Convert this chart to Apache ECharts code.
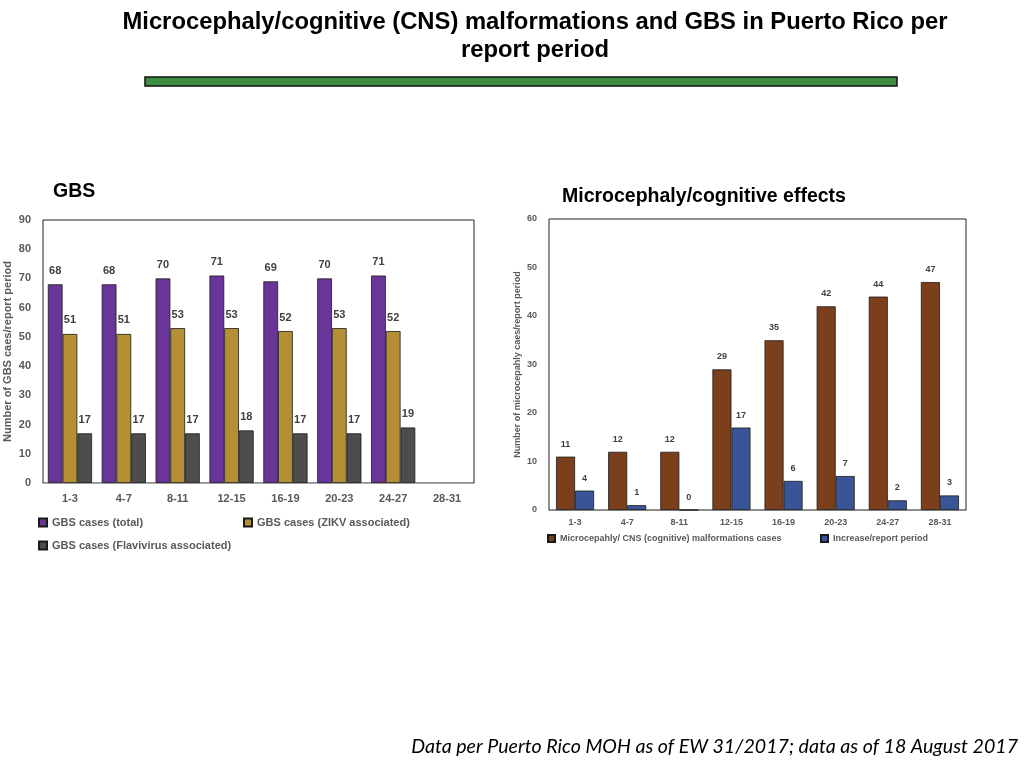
<!DOCTYPE html>
<html><head><meta charset="utf-8">
<script src="https://cdn.jsdelivr.net/npm/echarts@6/dist/echarts.min.js"></script>
<style>html,body{margin:0;padding:0;background:#fff}#c{width:1024px;height:768px}</style>
</head><body><div id="c"></div>
<script>
const periods = ['1-3','4-7','8-11','12-15','16-19','20-23','24-27','28-31'];
const gbsTotal = [68,68,70,71,69,70,71,null];
const gbsZikv = [51,51,53,53,52,53,52,null];
const gbsFlavi = [17,17,17,18,17,17,19,null];
const microCases = [11,12,12,29,35,42,44,47];
const microIncrease = [4,1,0,17,6,7,2,3];
const gbsTicks = {min:0,max:90,interval:10};
const microTicks = {min:0,max:60,interval:10};

const chart = echarts.init(document.getElementById('c'));
const lblL = {show:true,position:'top',color:'#404040',fontWeight:'bold',fontSize:11,fontFamily:'Liberation Sans, Arial',distance:8};
const lblR = {show:true,position:'top',color:'#404040',fontWeight:'bold',fontSize:9,fontFamily:'Liberation Sans, Arial',distance:8};
const axisLblL = {color:'#595959',fontWeight:'bold',fontSize:11,fontFamily:'Liberation Sans, Arial'};
const axisLblR = {color:'#595959',fontWeight:'bold',fontSize:9,fontFamily:'Liberation Sans, Arial'};
const bs = (c)=>({color:c,borderColor:'#1a1a1a',borderWidth:0.8});
const legTxt = (s)=>({color:'#595959',fontWeight:'bold',fontSize:s,fontFamily:'Liberation Sans, Arial'});

chart.setOption({
  animation:false,
  title:[
    {text:'Microcephaly/cognitive (CNS) malformations and GBS in Puerto Rico per\nreport period',left:530,textAlign:'center',top:3,
     textStyle:{fontFamily:'Liberation Sans, Arial',fontWeight:'bold',fontSize:23.8,color:'#000',lineHeight:28}},
    {text:'GBS',left:48,top:177,textStyle:{fontFamily:'Liberation Sans, Arial',fontWeight:'bold',fontSize:19.5,color:'#000'}},
    {text:'Microcephaly/cognitive effects',left:557,top:182,textStyle:{fontFamily:'Liberation Sans, Arial',fontWeight:'bold',fontSize:19.5,color:'#000'}},
    {text:'Data per Puerto Rico MOH as of EW 31/2017; data as of 18 August 2017',right:1,top:732,
     textStyle:{fontFamily:'Lato, Open Sans',fontStyle:'italic',fontWeight:'normal',fontSize:19.6,color:'#000'}}
  ],
  graphic:[{type:'rect',shape:{x:145,y:77,width:752,height:9},style:{fill:'#3e8e41',stroke:'#111',lineWidth:1.5}}],
  legend:[
    {data:['GBS cases (total)'],left:33,top:512,itemWidth:8,itemHeight:8,icon:'rect',textStyle:legTxt(11),itemGap:4},
    {data:['GBS cases (ZIKV associated)'],left:238,top:512,itemWidth:8,itemHeight:8,icon:'rect',textStyle:legTxt(11)},
    {data:['GBS cases (Flavivirus associated)'],left:33,top:535,itemWidth:8,itemHeight:8,icon:'rect',textStyle:legTxt(11)},
    {data:['Microcepahly/ CNS (cognitive) malformations cases'],left:542,top:529,itemWidth:7,itemHeight:7,icon:'rect',textStyle:legTxt(9)},
    {data:['Increase/report period'],left:815,top:529,itemWidth:7,itemHeight:7,icon:'rect',textStyle:legTxt(9)}
  ],
  grid:[
    {left:43,right:550,top:220,bottom:285,show:true,borderColor:'#222',borderWidth:1,backgroundColor:'#fff'},
    {left:549,right:58,top:219,bottom:258,show:true,borderColor:'#222',borderWidth:1,backgroundColor:'#fff'}
  ],
  xAxis:[
    {type:'category',gridIndex:0,data:periods,axisTick:{show:false},axisLine:{lineStyle:{color:'#aaa'}},axisLabel:Object.assign({margin:10},axisLblL)},
    {type:'category',gridIndex:1,data:periods,axisTick:{show:false},axisLine:{lineStyle:{color:'#888'}},axisLabel:Object.assign({margin:8},axisLblR)}
  ],
  yAxis:[
    {type:'value',gridIndex:0,min:gbsTicks.min,max:gbsTicks.max,interval:gbsTicks.interval,splitLine:{show:false},axisLine:{show:false},axisTick:{show:false},
     axisLabel:Object.assign({margin:12},axisLblL),name:'Number of GBS caes/report period',nameLocation:'middle',nameGap:30,
     nameTextStyle:{color:'#595959',fontWeight:'bold',fontSize:11,fontFamily:'Liberation Sans, Arial'}},
    {type:'value',gridIndex:1,min:microTicks.min,max:microTicks.max,interval:microTicks.interval,splitLine:{show:false},axisLine:{show:false},axisTick:{show:false},
     axisLabel:Object.assign({margin:12},axisLblR),name:'Number of microcepahly caes/report period',nameLocation:'middle',nameGap:27,
     nameTextStyle:{color:'#595959',fontWeight:'bold',fontSize:9,fontFamily:'Liberation Sans, Arial'}}
  ],
  series:[
    {name:'GBS cases (total)',type:'bar',xAxisIndex:0,yAxisIndex:0,data:gbsTotal,itemStyle:bs('#6a3598'),label:lblL,barGap:'0%',barCategoryGap:'18%'},
    {name:'GBS cases (ZIKV associated)',type:'bar',xAxisIndex:0,yAxisIndex:0,data:gbsZikv,itemStyle:bs('#b58f33'),label:lblL},
    {name:'GBS cases (Flavivirus associated)',type:'bar',xAxisIndex:0,yAxisIndex:0,data:gbsFlavi,itemStyle:bs('#4d4d4d'),label:lblL},
    {name:'Microcepahly/ CNS (cognitive) malformations cases',type:'bar',xAxisIndex:1,yAxisIndex:1,data:microCases,itemStyle:bs('#7b3f1c'),label:lblR,barGap:'0%',barCategoryGap:'27%'},
    {name:'Increase/report period',type:'bar',xAxisIndex:1,yAxisIndex:1,data:microIncrease,itemStyle:bs('#3a5597'),label:lblR}
  ]
});
</script></body></html>
